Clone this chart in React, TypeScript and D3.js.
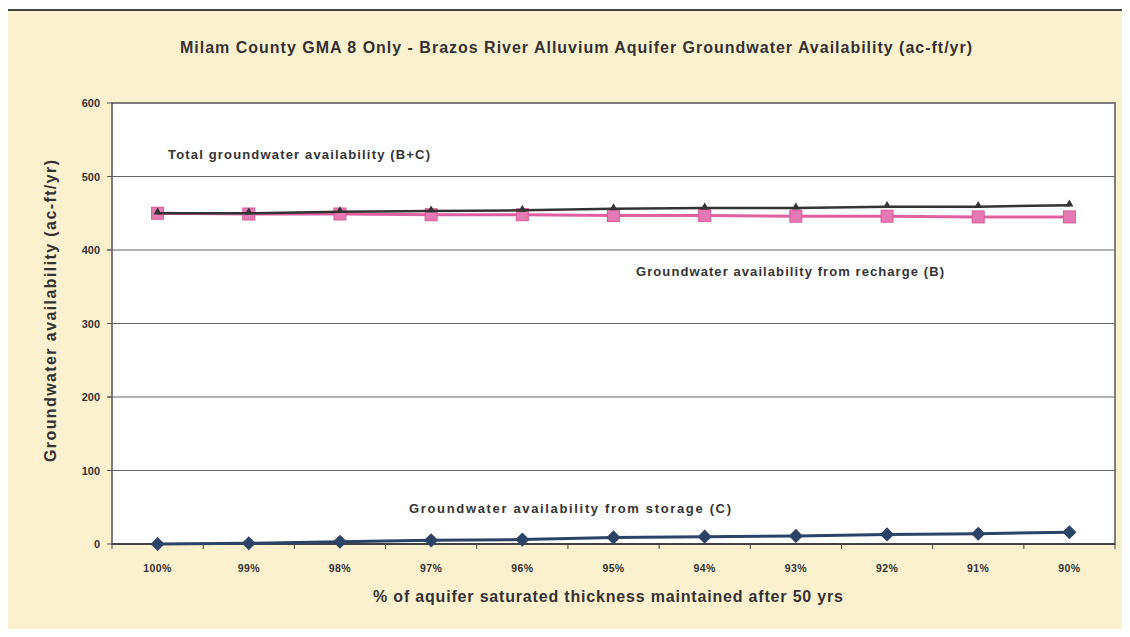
import { useEffect, useRef } from "react"
import * as d3 from "d3"

const categories = ["100%", "99%", "98%", "97%", "96%", "95%", "94%", "93%", "92%", "91%", "90%"]
const recharge = [450, 449, 449, 448, 448, 447, 447, 446, 446, 445, 445]
const storage = [0, 1, 3, 5, 6, 9, 10, 11, 13, 14, 16]
const total = [450, 450, 452, 453, 454, 456, 457, 457, 459, 459, 461]
const yTicks = [0, 100, 200, 300, 400, 500, 600]

const W = 1130
const H = 637
const FONT = "'Liberation Sans', Arial, sans-serif"

export default function App() {
  const ref = useRef<SVGSVGElement>(null)

  useEffect(() => {
    if (!ref.current) return
    const svg = d3.select(ref.current)
    svg.selectAll("*").remove()

    const margin = { top: 103, right: 15, bottom: 93, left: 112 }

    // page background + frame
    svg.append("rect").attr("width", W).attr("height", H).attr("fill", "#fff")
    svg.append("rect")
      .attr("x", 4).attr("y", 10).attr("width", W - 7).attr("height", H - 13)
      .attr("fill", "#fcf1cf").attr("stroke", "#444").attr("stroke-width", 2)

    const x = d3.scaleBand()
      .domain(categories)
      .range([margin.left, W - margin.right])

    const y = d3.scaleLinear()
      .domain([0, 600])
      .range([H - margin.bottom, margin.top])

    const cx = (i: number) => (x(categories[i]) || 0) + x.bandwidth() / 2

    // plot area
    svg.append("rect")
      .attr("x", margin.left).attr("y", margin.top)
      .attr("width", W - margin.left - margin.right)
      .attr("height", H - margin.top - margin.bottom)
      .attr("fill", "#fff").attr("stroke", "#555").attr("stroke-width", 1.5)

    // gridlines
    svg.selectAll("line.grid")
      .data(yTicks.filter((t) => t > 0 && t < 600))
      .join("line")
      .attr("class", "grid")
      .attr("x1", margin.left - 5).attr("x2", W - margin.right)
      .attr("y1", (d) => y(d)).attr("y2", (d) => y(d))
      .attr("stroke", "#666").attr("stroke-width", 1.2)

    // y ticks/labels
    svg.selectAll("line.ytick")
      .data(yTicks)
      .join("line")
      .attr("class", "ytick")
      .attr("x1", margin.left - 5).attr("x2", margin.left)
      .attr("y1", (d) => y(d)).attr("y2", (d) => y(d))
      .attr("stroke", "#555")
    svg.selectAll("text.ylab")
      .data(yTicks)
      .join("text")
      .attr("class", "ylab")
      .attr("x", margin.left - 12)
      .attr("y", (d) => y(d) + 4)
      .attr("text-anchor", "end")
      .attr("font-family", FONT).attr("font-weight", "bold").attr("font-size", 11)
      .attr("fill", "#333")
      .text((d) => d)

    // x axis line, ticks, labels
    const y0 = y(0)
    svg.append("line")
      .attr("x1", margin.left).attr("x2", W - margin.right)
      .attr("y1", y0).attr("y2", y0)
      .attr("stroke", "#444").attr("stroke-width", 2)
    const bounds = categories.map((c) => x(c) || 0).concat([W - margin.right])
    svg.selectAll("line.xtick")
      .data(bounds)
      .join("line")
      .attr("class", "xtick")
      .attr("x1", (d) => d).attr("x2", (d) => d)
      .attr("y1", y0).attr("y2", y0 + 5)
      .attr("stroke", "#444")
    svg.selectAll("text.xlab")
      .data(categories)
      .join("text")
      .attr("class", "xlab")
      .attr("x", (_d, i) => cx(i))
      .attr("y", y0 + 28)
      .attr("text-anchor", "middle")
      .attr("font-family", FONT).attr("font-weight", "bold").attr("font-size", 10.5)
      .attr("letter-spacing", 0.4)
      .attr("fill", "#333")
      .text((d) => d)

    const line = d3.line<number>()
      .x((_d, i) => cx(i))
      .y((d) => y(d))

    // recharge (B)
    svg.append("path").datum(recharge)
      .attr("d", line).attr("fill", "none")
      .attr("stroke", "#e0609f").attr("stroke-width", 3)
    svg.selectAll("rect.sq")
      .data(recharge)
      .join("rect")
      .attr("class", "sq")
      .attr("x", (_d, i) => cx(i) - 6).attr("y", (d) => y(d) - 6)
      .attr("width", 12).attr("height", 12)
      .attr("fill", "#e579b3").attr("stroke", "#d85a9c").attr("stroke-width", 1)

    // total (B+C)
    svg.append("path").datum(total)
      .attr("d", line).attr("fill", "none")
      .attr("stroke", "#333").attr("stroke-width", 2.5)
    const tri = d3.symbol().type(d3.symbolTriangle).size(28)
    svg.selectAll("path.tri")
      .data(total)
      .join("path")
      .attr("class", "tri")
      .attr("d", tri)
      .attr("transform", (d, i) => `translate(${cx(i)},${y(d) - 1})`)
      .attr("fill", "#333")

    // storage (C)
    svg.append("path").datum(storage)
      .attr("d", line).attr("fill", "none")
      .attr("stroke", "#2b4366").attr("stroke-width", 3)
    const dia = d3.symbol().type(d3.symbolSquare).size(100)
    svg.selectAll("path.dia")
      .data(storage)
      .join("path")
      .attr("class", "dia")
      .attr("d", dia)
      .attr("transform", (d, i) => `translate(${cx(i)},${y(d)}) rotate(45)`)
      .attr("fill", "#2b4366")

    // series labels
    const label = (tx: number, ty: number, len: number, s: string) =>
      svg.append("text")
        .attr("x", tx).attr("y", ty)
        .attr("font-family", FONT).attr("font-weight", "bold").attr("font-size", 13)
        .attr("textLength", len).attr("lengthAdjust", "spacing")
        .attr("fill", "#333")
        .text(s)
    label(168, 159, 262, "Total groundwater availability (B+C)")
    label(636, 276, 308, "Groundwater availability from recharge (B)")
    label(409, 513, 322, "Groundwater availability from storage (C)")

    // title
    svg.append("text")
      .attr("x", 180).attr("y", 53)
      .attr("font-family", FONT).attr("font-weight", "bold").attr("font-size", 16)
      .attr("textLength", 792).attr("lengthAdjust", "spacing")
      .attr("fill", "#333")
      .text("Milam County GMA 8 Only - Brazos River Alluvium Aquifer Groundwater Availability (ac-ft/yr)")

    // axis titles
    svg.append("text")
      .attr("x", 373).attr("y", 602)
      .attr("font-family", FONT).attr("font-weight", "bold").attr("font-size", 16)
      .attr("textLength", 470).attr("lengthAdjust", "spacing")
      .attr("fill", "#333")
      .text("% of aquifer saturated thickness maintained after 50 yrs")
    svg.append("text")
      .attr("transform", `translate(56,462) rotate(-90)`)
      .attr("font-family", FONT).attr("font-weight", "bold").attr("font-size", 16)
      .attr("textLength", 302).attr("lengthAdjust", "spacing")
      .attr("fill", "#333")
      .text("Groundwater availability (ac-ft/yr)")
  }, [])

  return (
    <div style={{ margin: -8 }}>
      <svg ref={ref} width={W} height={H} style={{ display: "block" }} />
    </div>
  )
}
